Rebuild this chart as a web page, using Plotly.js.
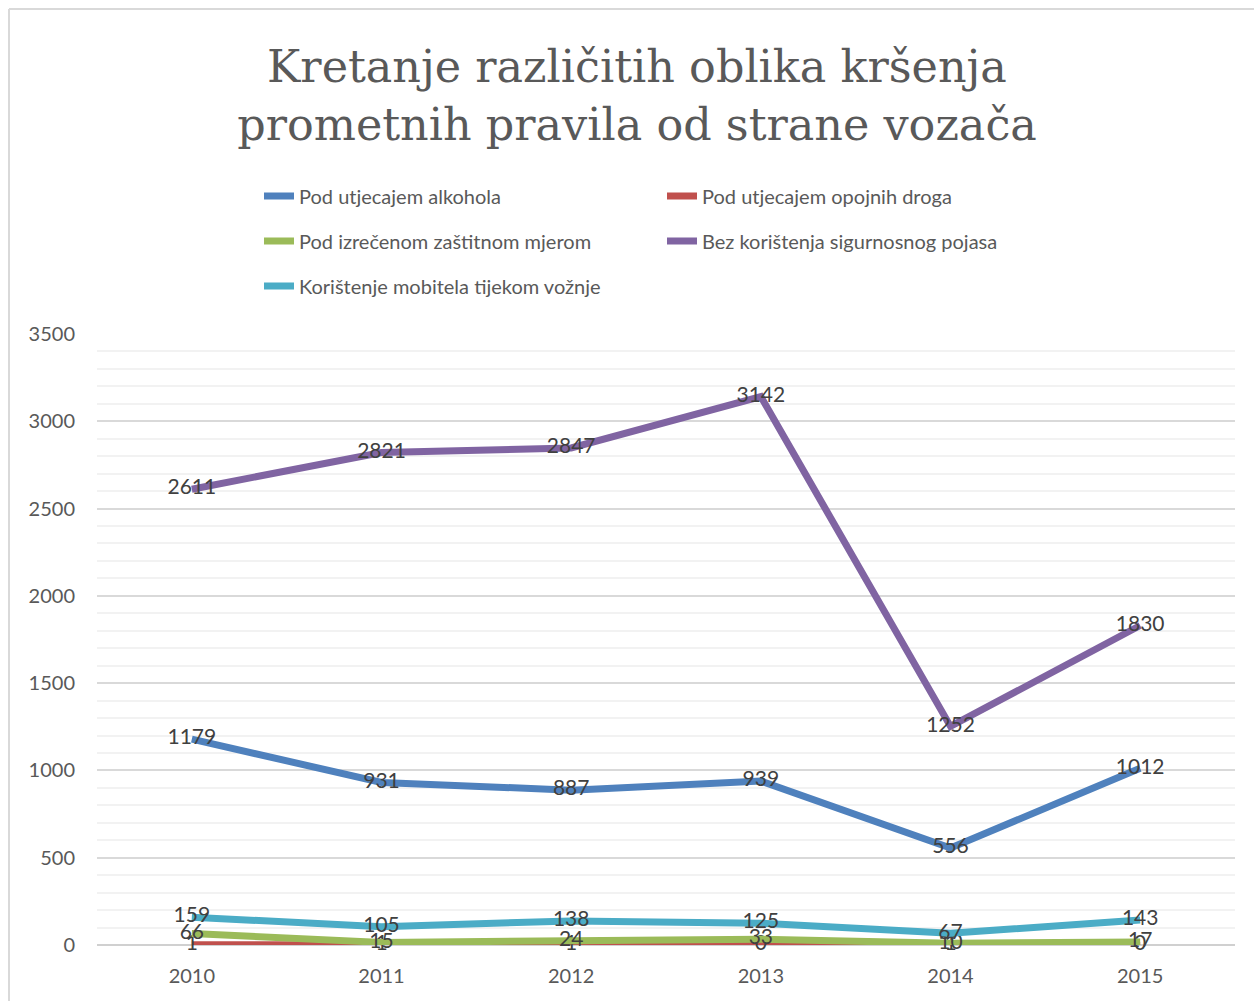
<!DOCTYPE html>
<html>
<head>
<meta charset="utf-8">
<script src="https://cdn.plot.ly/plotly-3.0.1.min.js"></script>
<style>
html,body{margin:0;padding:0;background:#fff;}
#chart{width:1254px;height:1001px;}
</style>
</head>
<body>
<div id="chart"></div>
<script>
const years = ['2010', '2011', '2012', '2013', '2014', '2015'];
const alkohol = [1179, 931, 887, 939, 556, 1012];
const droge = [1, 1, 1, 0, 1, 0];
const zastitnaMjera = [66, 15, 24, 33, 10, 17];
const pojas = [2611, 2821, 2847, 3142, 1252, 1830];
const mobitel = [159, 105, 138, 125, 67, 143];

const seriesNames = [
  'Pod utjecajem alkohola',
  'Pod utjecajem opojnih droga',
  'Pod izrečenom zaštitnom mjerom',
  'Bez korištenja sigurnosnog pojasa',
  'Korištenje mobitela tijekom vožnje'
];
const seriesColors = ['#4F81BD', '#C0504D', '#9BBB59', '#8064A2', '#4BACC6'];
const seriesData = [alkohol, droge, zastitnaMjera, pojas, mobitel];
const legendIds = ['legend', 'legend', 'legend2', 'legend2', 'legend3'];

const traces = seriesData.map((vals, i) => ({
  type: 'scatter',
  mode: 'lines+text',
  x: years,
  y: vals,
  name: seriesNames[i],
  legend: legendIds[i],
  text: vals.map(String),
  textposition: 'middle center',
  textfont: {family: 'Lato, "Open Sans", sans-serif', size: 21, color: '#404040'},
  line: {color: seriesColors[i], width: 7},
  cliponaxis: false,
  hoverinfo: 'x+y+name'
}));

const legendBase = {
  orientation: 'h',
  xref: 'container', yref: 'container',
  xanchor: 'left', yanchor: 'middle',
  x: 259 / 1254,
  font: {family: 'Lato, "Open Sans", sans-serif', size: 20, color: '#595959'},
  entrywidth: 358, entrywidthmode: 'pixels',
  bgcolor: 'rgba(0,0,0,0)',
  traceorder: 'normal'
};

const layout = {
  width: 1254, height: 1001,
  paper_bgcolor: '#ffffff', plot_bgcolor: '#ffffff',
  margin: {l: 97, r: 19, t: 334, b: 56},
  title: {
    text: 'Kretanje različitih oblika kršenja<br>prometnih pravila od strane vozača',
    font: {family: '"DejaVu Serif", "Liberation Serif", serif', size: 44.5, color: '#595959'},
    xref: 'container', yref: 'container',
    x: 637 / 1254, xanchor: 'center',
    y: 1 - 82 / 1001, yanchor: 'top'
  },
  showlegend: true,
  legend: Object.assign({}, legendBase, {y: 1 - 196 / 1001}),
  legend2: Object.assign({}, legendBase, {y: 1 - 241 / 1001}),
  legend3: Object.assign({}, legendBase, {y: 1 - 286 / 1001}),
  xaxis: {
    type: 'category',
    range: [-0.5, 5.5],
    showgrid: false,
    zeroline: false,
    showline: false,
    ticks: '',
    ticklabelstandoff: 17,
    tickfont: {family: 'Lato, "Open Sans", sans-serif', size: 20, color: '#595959'}
  },
  yaxis: {
    range: [0, 3500],
    dtick: 500,
    tick0: 0,
    showgrid: true,
    gridcolor: '#d9d9d9',
    gridwidth: 1.5,
    zeroline: true,
    zerolinecolor: '#d0d0d0',
    zerolinewidth: 2,
    showline: false,
    ticks: '',
    ticklabelstandoff: 21,
    tickfont: {family: 'Lato, "Open Sans", sans-serif', size: 20, color: '#595959'},
    minor: {dtick: 100, showgrid: true, gridcolor: '#f2f2f2', gridwidth: 1.5}
  },
  shapes: [
    {type: 'line', xref: 'paper', yref: 'paper',
     x0: (9 - 97) / 1138, x1: (1254 - 97) / 1138, y0: 1 + (334 - 9) / 611, y1: 1 + (334 - 9) / 611,
     line: {color: '#d9d9d9', width: 2}},
    {type: 'line', xref: 'paper', yref: 'paper',
     x0: (9 - 97) / 1138, x1: (9 - 97) / 1138, y0: 1 + (334 - 9) / 611, y1: -(1001 - 945) / 611,
     line: {color: '#d9d9d9', width: 2}}
  ]
};

Plotly.newPlot('chart', traces, layout, {displayModeBar: false, responsive: false});
</script>
</body>
</html>
